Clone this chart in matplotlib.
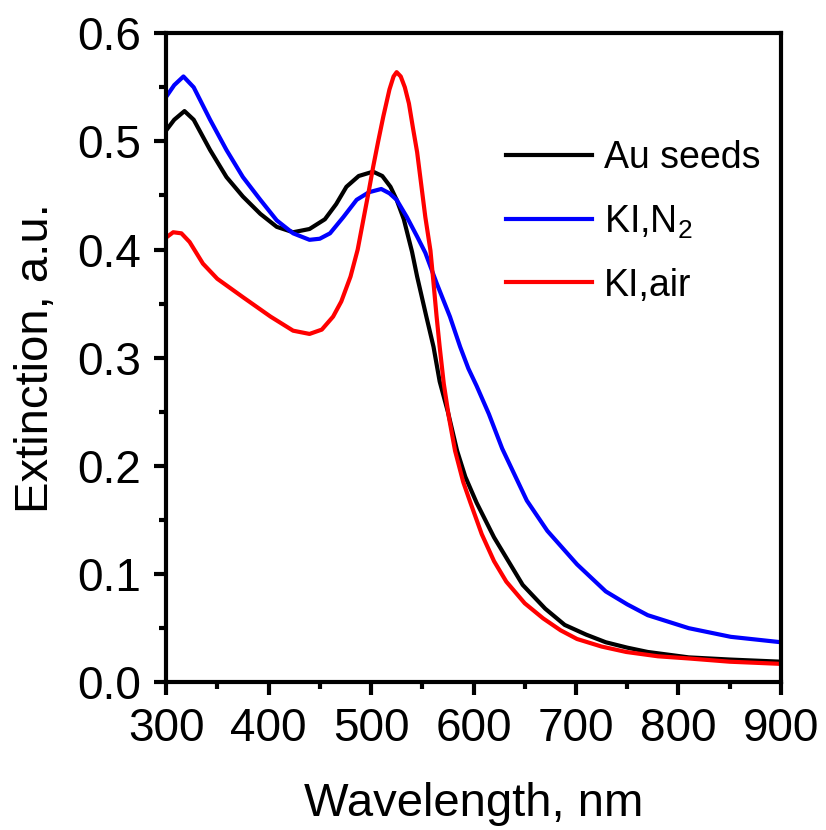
import matplotlib
matplotlib.use("Agg")
import matplotlib.pyplot as plt
from matplotlib.ticker import MultipleLocator

plt.rcParams['font.family'] = ['Liberation Sans', 'DejaVu Sans']
plt.rcParams['mathtext.default'] = 'regular'

# Extinction spectra (wavelength in nm, extinction in a.u.)
wl_seeds = [300, 308, 318, 327, 343, 359, 375, 392, 408, 424, 440, 455, 466, 476,
            488, 502, 511, 519, 525, 532, 540, 545, 554, 561, 567, 575, 584, 592,
            603, 620, 648, 670, 689, 710, 729, 750, 770, 810, 850, 900]
ext_seeds = [0.510, 0.520, 0.528, 0.520, 0.492, 0.467, 0.449, 0.433, 0.421, 0.416,
             0.419, 0.428, 0.442, 0.458, 0.468, 0.472, 0.468, 0.458, 0.446, 0.428,
             0.398, 0.375, 0.338, 0.310, 0.278, 0.250, 0.214, 0.190, 0.166, 0.134,
             0.090, 0.068, 0.053, 0.044, 0.037, 0.032, 0.028, 0.023, 0.021, 0.019]

wl_n2 = [300, 308, 317, 327, 343, 359, 375, 392, 408, 424, 440, 450, 460, 473,
         486, 498, 510, 518, 525, 535, 545, 553, 564, 577, 587, 595, 603, 615,
         628, 640, 652, 672, 701, 729, 750, 770, 790, 810, 851, 900]
ext_n2 = [0.541, 0.552, 0.560, 0.550, 0.520, 0.492, 0.467, 0.446, 0.427, 0.415,
          0.409, 0.410, 0.415, 0.430, 0.446, 0.453, 0.456, 0.452, 0.446, 0.430,
          0.412, 0.397, 0.369, 0.338, 0.310, 0.290, 0.274, 0.248, 0.216, 0.192,
          0.168, 0.140, 0.109, 0.084, 0.072, 0.062, 0.056, 0.050, 0.042, 0.037]

wl_air = [300, 307, 315, 323, 336, 350, 375, 402, 424, 440, 452, 463, 471, 480,
          487, 493, 498, 502, 507, 512, 518, 522, 525, 529, 533, 537, 541, 545,
          549, 553, 558, 561, 564, 567, 571, 576, 582, 590, 597, 608, 620, 632,
          650, 668, 685, 701, 725, 749, 780, 810, 850, 900]
ext_air = [0.411, 0.416, 0.415, 0.407, 0.387, 0.373, 0.356, 0.338, 0.325, 0.322,
           0.326, 0.338, 0.352, 0.375, 0.400, 0.430, 0.455, 0.476, 0.500, 0.523,
           0.548, 0.560, 0.564, 0.560, 0.550, 0.535, 0.512, 0.490, 0.460, 0.430,
           0.399, 0.369, 0.338, 0.310, 0.276, 0.245, 0.214, 0.185, 0.166, 0.137,
           0.112, 0.093, 0.073, 0.059, 0.048, 0.040, 0.033, 0.028, 0.024, 0.022,
           0.019, 0.017]

fig = plt.figure(figsize=(8.26, 8.30), dpi=100)
ax = fig.add_axes([0.201, 0.178, 0.7445, 0.782])

lw = 3.0
ax.plot(wl_seeds, ext_seeds, color='black', lw=lw, label='Au seeds')
ax.plot(wl_n2, ext_n2, color='#0000ff', lw=lw, label='KI,N$_2$')
ax.plot(wl_air, ext_air, color='#ff0000', lw=lw, label='KI,air')

ax.set_xlim(300, 900)
ax.set_ylim(0, 0.6)
ax.xaxis.set_major_locator(MultipleLocator(100))
ax.xaxis.set_minor_locator(MultipleLocator(50))
ax.yaxis.set_major_locator(MultipleLocator(0.1))
ax.yaxis.set_minor_locator(MultipleLocator(0.05))
ax.yaxis.set_major_formatter(matplotlib.ticker.FormatStrFormatter('%.1f'))

for s in ax.spines.values():
    s.set_linewidth(3)
ax.tick_params(which='both', direction='out', top=False, right=False, width=3)
ax.tick_params(which='major', length=9, labelsize=33, pad=9)
ax.tick_params(which='minor', length=5)

ax.set_xlabel('Wavelength, nm', fontsize=34, labelpad=22)
ax.set_ylabel('Extinction, a.u.', fontsize=34, labelpad=14)

ax.legend(loc='upper left', bbox_to_anchor=(0.553, 0.835), frameon=False,
          fontsize=27, handlelength=2.3, handletextpad=0.3, labelspacing=0.72,
          borderaxespad=0, borderpad=0)

fig.savefig('out.png', dpi=100)
